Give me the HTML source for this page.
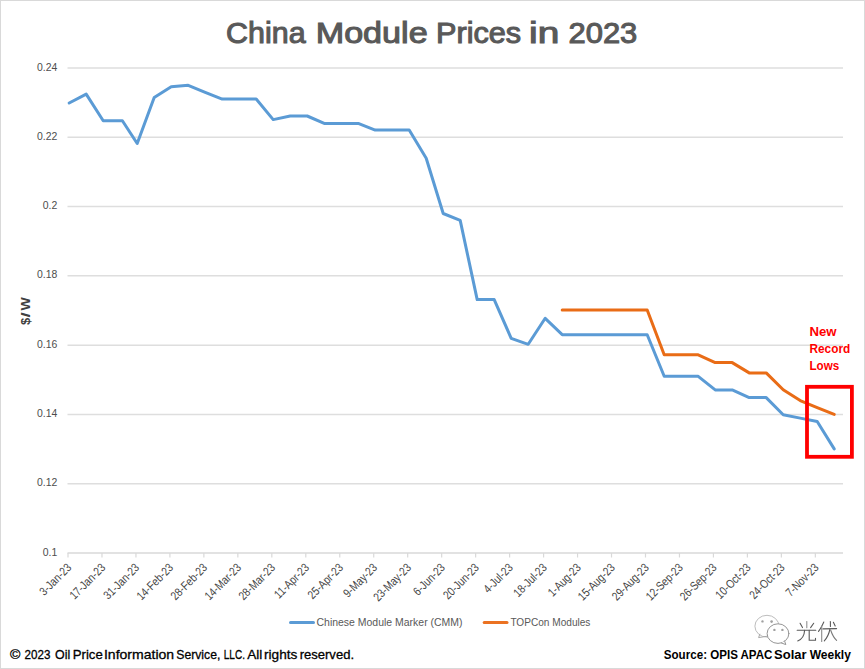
<!DOCTYPE html>
<html><head><meta charset="utf-8"><style>
html,body{margin:0;padding:0;background:#fff;}
svg{display:block;}
text{font-family:"Liberation Sans",sans-serif;}
</style></head><body>
<svg width="865" height="669" viewBox="0 0 865 669">
<rect x="0.5" y="0.5" width="864" height="668" fill="#fff" stroke="#d9d9d9" stroke-width="1"/>
<text x="226.10" y="42.6" font-size="30" fill="#595959" stroke="#595959" stroke-width="1.1" textLength="79.5" lengthAdjust="spacingAndGlyphs">China</text>
<text x="315.70" y="42.6" font-size="30" fill="#595959" stroke="#595959" stroke-width="1.1" textLength="112" lengthAdjust="spacingAndGlyphs">Module</text>
<text x="436.10" y="42.6" font-size="30" fill="#595959" stroke="#595959" stroke-width="1.1" textLength="85" lengthAdjust="spacingAndGlyphs">Prices</text>
<text x="529.10" y="42.6" font-size="30" fill="#595959" stroke="#595959" stroke-width="1.1" textLength="30.2" lengthAdjust="spacingAndGlyphs">in</text>
<text x="568.50" y="42.6" font-size="30" fill="#595959" stroke="#595959" stroke-width="1.1" textLength="68.8" lengthAdjust="spacingAndGlyphs">2023</text>
<line x1="67.5" y1="68.00" x2="843" y2="68.00" stroke="#dedede" stroke-width="1.5"/>
<line x1="67.5" y1="137.29" x2="843" y2="137.29" stroke="#dedede" stroke-width="1.5"/>
<line x1="67.5" y1="206.58" x2="843" y2="206.58" stroke="#dedede" stroke-width="1.5"/>
<line x1="67.5" y1="275.87" x2="843" y2="275.87" stroke="#dedede" stroke-width="1.5"/>
<line x1="67.5" y1="345.16" x2="843" y2="345.16" stroke="#dedede" stroke-width="1.5"/>
<line x1="67.5" y1="414.45" x2="843" y2="414.45" stroke="#dedede" stroke-width="1.5"/>
<line x1="67.5" y1="483.74" x2="843" y2="483.74" stroke="#dedede" stroke-width="1.5"/>
<line x1="67.5" y1="553.03" x2="843" y2="553.03" stroke="#d9d9d9" stroke-width="1.6"/>
<line x1="68.00" y1="553.03" x2="68.00" y2="557.5" stroke="#d9d9d9" stroke-width="1.2"/>
<line x1="101.97" y1="553.03" x2="101.97" y2="557.5" stroke="#d9d9d9" stroke-width="1.2"/>
<line x1="135.94" y1="553.03" x2="135.94" y2="557.5" stroke="#d9d9d9" stroke-width="1.2"/>
<line x1="169.91" y1="553.03" x2="169.91" y2="557.5" stroke="#d9d9d9" stroke-width="1.2"/>
<line x1="203.88" y1="553.03" x2="203.88" y2="557.5" stroke="#d9d9d9" stroke-width="1.2"/>
<line x1="237.85" y1="553.03" x2="237.85" y2="557.5" stroke="#d9d9d9" stroke-width="1.2"/>
<line x1="271.82" y1="553.03" x2="271.82" y2="557.5" stroke="#d9d9d9" stroke-width="1.2"/>
<line x1="305.79" y1="553.03" x2="305.79" y2="557.5" stroke="#d9d9d9" stroke-width="1.2"/>
<line x1="339.76" y1="553.03" x2="339.76" y2="557.5" stroke="#d9d9d9" stroke-width="1.2"/>
<line x1="373.73" y1="553.03" x2="373.73" y2="557.5" stroke="#d9d9d9" stroke-width="1.2"/>
<line x1="407.70" y1="553.03" x2="407.70" y2="557.5" stroke="#d9d9d9" stroke-width="1.2"/>
<line x1="441.67" y1="553.03" x2="441.67" y2="557.5" stroke="#d9d9d9" stroke-width="1.2"/>
<line x1="475.64" y1="553.03" x2="475.64" y2="557.5" stroke="#d9d9d9" stroke-width="1.2"/>
<line x1="509.61" y1="553.03" x2="509.61" y2="557.5" stroke="#d9d9d9" stroke-width="1.2"/>
<line x1="543.58" y1="553.03" x2="543.58" y2="557.5" stroke="#d9d9d9" stroke-width="1.2"/>
<line x1="577.55" y1="553.03" x2="577.55" y2="557.5" stroke="#d9d9d9" stroke-width="1.2"/>
<line x1="611.52" y1="553.03" x2="611.52" y2="557.5" stroke="#d9d9d9" stroke-width="1.2"/>
<line x1="645.49" y1="553.03" x2="645.49" y2="557.5" stroke="#d9d9d9" stroke-width="1.2"/>
<line x1="679.46" y1="553.03" x2="679.46" y2="557.5" stroke="#d9d9d9" stroke-width="1.2"/>
<line x1="713.43" y1="553.03" x2="713.43" y2="557.5" stroke="#d9d9d9" stroke-width="1.2"/>
<line x1="747.40" y1="553.03" x2="747.40" y2="557.5" stroke="#d9d9d9" stroke-width="1.2"/>
<line x1="781.37" y1="553.03" x2="781.37" y2="557.5" stroke="#d9d9d9" stroke-width="1.2"/>
<line x1="815.34" y1="553.03" x2="815.34" y2="557.5" stroke="#d9d9d9" stroke-width="1.2"/>
<text transform="translate(57.3,70.50) scale(0.95,1)" font-size="11" fill="#4d4d4d" text-anchor="end">0.24</text>
<text transform="translate(57.3,139.79) scale(0.95,1)" font-size="11" fill="#4d4d4d" text-anchor="end">0.22</text>
<text transform="translate(57.3,209.08) scale(0.95,1)" font-size="11" fill="#4d4d4d" text-anchor="end">0.2</text>
<text transform="translate(57.3,278.37) scale(0.95,1)" font-size="11" fill="#4d4d4d" text-anchor="end">0.18</text>
<text transform="translate(57.3,347.66) scale(0.95,1)" font-size="11" fill="#4d4d4d" text-anchor="end">0.16</text>
<text transform="translate(57.3,416.95) scale(0.95,1)" font-size="11" fill="#4d4d4d" text-anchor="end">0.14</text>
<text transform="translate(57.3,486.24) scale(0.95,1)" font-size="11" fill="#4d4d4d" text-anchor="end">0.12</text>
<text transform="translate(57.3,555.53) scale(0.95,1)" font-size="11" fill="#4d4d4d" text-anchor="end">0.1</text>
<g transform="translate(30.3,0) rotate(-90)" font-size="13" font-weight="bold" fill="#404040"><text x="-325" y="0">$</text><text x="-317.6" y="0" transform="translate(-317.6,0) scale(1.45,1) translate(317.6,0)">/</text><text x="-310.4" y="0" textLength="13.2" lengthAdjust="spacingAndGlyphs">W</text></g>
<text transform="translate(72.10,568.4) rotate(-45) scale(0.83,1)" font-size="12" fill="#454545" text-anchor="end">3-Jan-23</text>
<text transform="translate(106.07,568.4) rotate(-45) scale(0.83,1)" font-size="12" fill="#454545" text-anchor="end">17-Jan-23</text>
<text transform="translate(140.04,568.4) rotate(-45) scale(0.83,1)" font-size="12" fill="#454545" text-anchor="end">31-Jan-23</text>
<text transform="translate(174.01,568.4) rotate(-45) scale(0.83,1)" font-size="12" fill="#454545" text-anchor="end">14-Feb-23</text>
<text transform="translate(207.98,568.4) rotate(-45) scale(0.83,1)" font-size="12" fill="#454545" text-anchor="end">28-Feb-23</text>
<text transform="translate(241.95,568.4) rotate(-45) scale(0.83,1)" font-size="12" fill="#454545" text-anchor="end">14-Mar-23</text>
<text transform="translate(275.92,568.4) rotate(-45) scale(0.83,1)" font-size="12" fill="#454545" text-anchor="end">28-Mar-23</text>
<text transform="translate(309.89,568.4) rotate(-45) scale(0.83,1)" font-size="12" fill="#454545" text-anchor="end">11-Apr-23</text>
<text transform="translate(343.86,568.4) rotate(-45) scale(0.83,1)" font-size="12" fill="#454545" text-anchor="end">25-Apr-23</text>
<text transform="translate(377.83,568.4) rotate(-45) scale(0.83,1)" font-size="12" fill="#454545" text-anchor="end">9-May-23</text>
<text transform="translate(411.80,568.4) rotate(-45) scale(0.83,1)" font-size="12" fill="#454545" text-anchor="end">23-May-23</text>
<text transform="translate(445.77,568.4) rotate(-45) scale(0.83,1)" font-size="12" fill="#454545" text-anchor="end">6-Jun-23</text>
<text transform="translate(479.74,568.4) rotate(-45) scale(0.83,1)" font-size="12" fill="#454545" text-anchor="end">20-Jun-23</text>
<text transform="translate(513.71,568.4) rotate(-45) scale(0.83,1)" font-size="12" fill="#454545" text-anchor="end">4-Jul-23</text>
<text transform="translate(547.68,568.4) rotate(-45) scale(0.83,1)" font-size="12" fill="#454545" text-anchor="end">18-Jul-23</text>
<text transform="translate(581.65,568.4) rotate(-45) scale(0.83,1)" font-size="12" fill="#454545" text-anchor="end">1-Aug-23</text>
<text transform="translate(615.62,568.4) rotate(-45) scale(0.83,1)" font-size="12" fill="#454545" text-anchor="end">15-Aug-23</text>
<text transform="translate(649.59,568.4) rotate(-45) scale(0.83,1)" font-size="12" fill="#454545" text-anchor="end">29-Aug-23</text>
<text transform="translate(683.56,568.4) rotate(-45) scale(0.83,1)" font-size="12" fill="#454545" text-anchor="end">12-Sep-23</text>
<text transform="translate(717.53,568.4) rotate(-45) scale(0.83,1)" font-size="12" fill="#454545" text-anchor="end">26-Sep-23</text>
<text transform="translate(751.50,568.4) rotate(-45) scale(0.83,1)" font-size="12" fill="#454545" text-anchor="end">10-Oct-23</text>
<text transform="translate(785.47,568.4) rotate(-45) scale(0.83,1)" font-size="12" fill="#454545" text-anchor="end">24-Oct-23</text>
<text transform="translate(819.44,568.4) rotate(-45) scale(0.83,1)" font-size="12" fill="#454545" text-anchor="end">7-Nov-23</text>
<polyline points="69.20,103.00 86.20,94.10 103.20,120.75 122.40,120.75 137.20,143.50 154.20,97.40 171.20,86.70 188.20,85.30 205.20,92.40 222.20,99.10 239.20,99.00 256.20,99.00 273.20,119.60 290.20,116.00 307.20,116.00 324.20,123.40 341.20,123.40 358.20,123.40 375.20,130.10 392.20,130.10 409.20,130.10 426.20,158.30 443.20,213.50 460.20,220.40 477.20,299.60 494.20,299.60 511.20,338.30 528.20,344.30 545.20,318.30 562.20,334.70 579.20,334.70 596.20,334.70 613.20,334.70 630.20,334.70 647.20,334.70 664.20,376.30 681.20,376.30 698.20,376.30 715.20,389.90 732.20,389.90 749.20,397.60 766.20,397.60 783.20,414.80 800.20,418.10 817.20,421.50 834.20,448.90" fill="none" stroke="#5b9bd5" stroke-width="3" stroke-linejoin="round" stroke-linecap="round"/>
<polyline points="562.20,310.00 579.20,310.00 596.20,310.00 613.20,310.00 630.20,310.00 647.20,310.00 664.20,354.80 681.20,354.80 698.20,354.80 715.20,362.60 732.20,362.60 749.20,372.90 766.20,372.90 783.20,389.80 800.20,400.60 817.20,407.70 834.20,414.40" fill="none" stroke="#e96c16" stroke-width="3" stroke-linejoin="round" stroke-linecap="round"/>
<rect x="807" y="386.8" width="44.9" height="70" fill="none" stroke="#ff0000" stroke-width="3.8"/>
<text x="809.5" y="335.6" font-size="12" font-weight="bold" fill="#ff0000" textLength="27.1" lengthAdjust="spacingAndGlyphs">New</text>
<text x="809.5" y="352.7" font-size="12" font-weight="bold" fill="#ff0000" textLength="40.7" lengthAdjust="spacingAndGlyphs">Record</text>
<text x="809.5" y="369.7" font-size="12" font-weight="bold" fill="#ff0000" textLength="29.7" lengthAdjust="spacingAndGlyphs">Lows</text>
<line x1="290.5" y1="622.5" x2="313.5" y2="622.5" stroke="#5b9bd5" stroke-width="3" stroke-linecap="round"/>
<text x="316.5" y="625.8" font-size="11" fill="#595959" textLength="146" lengthAdjust="spacingAndGlyphs">Chinese Module Marker (CMM)</text>
<line x1="484.2" y1="622.6" x2="507" y2="622.6" stroke="#eb7222" stroke-width="3" stroke-linecap="round"/>
<text x="510.4" y="625.8" font-size="11" fill="#595959" textLength="80" lengthAdjust="spacingAndGlyphs">TOPCon Modules</text>
<text x="9.90" y="658.7" font-size="13.5" fill="#000" stroke="#000" stroke-width="0.3" textLength="10.40" lengthAdjust="spacingAndGlyphs">©</text>
<text x="24.50" y="658.7" font-size="13.5" fill="#000" stroke="#000" stroke-width="0.3" textLength="25.85" lengthAdjust="spacingAndGlyphs">2023</text>
<text x="55.00" y="658.7" font-size="13.5" fill="#000" stroke="#000" stroke-width="0.3" textLength="15.15" lengthAdjust="spacingAndGlyphs">Oil</text>
<text x="72.75" y="658.7" font-size="13.5" fill="#000" stroke="#000" stroke-width="0.3" textLength="30.05" lengthAdjust="spacingAndGlyphs">Price</text>
<text x="103.95" y="658.7" font-size="13.5" fill="#000" stroke="#000" stroke-width="0.3" textLength="70.20" lengthAdjust="spacingAndGlyphs">Information</text>
<text x="176.25" y="658.7" font-size="13.5" fill="#000" stroke="#000" stroke-width="0.3" textLength="44.10" lengthAdjust="spacingAndGlyphs">Service,</text>
<text x="223.80" y="658.7" font-size="13.5" fill="#000" stroke="#000" stroke-width="0.3" textLength="21.15" lengthAdjust="spacingAndGlyphs">LLC.</text>
<text x="247.25" y="658.7" font-size="13.5" fill="#000" stroke="#000" stroke-width="0.3" textLength="15.15" lengthAdjust="spacingAndGlyphs">All</text>
<text x="264.00" y="658.7" font-size="13.5" fill="#000" stroke="#000" stroke-width="0.3" textLength="33.35" lengthAdjust="spacingAndGlyphs">rights</text>
<text x="299.65" y="658.7" font-size="13.5" fill="#000" stroke="#000" stroke-width="0.3" textLength="54.40" lengthAdjust="spacingAndGlyphs">reserved.</text>
<text x="663.80" y="658.7" font-size="13.5" font-weight="bold" fill="#000" textLength="43.20" lengthAdjust="spacingAndGlyphs">Source:</text>
<text x="710.30" y="658.7" font-size="13.5" font-weight="bold" fill="#000" textLength="27.65" lengthAdjust="spacingAndGlyphs">OPIS</text>
<text x="740.45" y="658.7" font-size="13.5" font-weight="bold" fill="#000" textLength="31.90" lengthAdjust="spacingAndGlyphs">APAC</text>
<text x="774.05" y="658.7" font-size="13.5" font-weight="bold" fill="#000" textLength="32.50" lengthAdjust="spacingAndGlyphs">Solar</text>
<text x="809.70" y="658.7" font-size="13.5" font-weight="bold" fill="#000" textLength="41.20" lengthAdjust="spacingAndGlyphs">Weekly</text>
<g fill="none" stroke-width="1" stroke-linecap="round" stroke-linejoin="round">
<ellipse cx="767" cy="626.2" rx="12.1" ry="10.9" stroke="#bdbdbd"/>
<path d="M759.8,634.2 L758.6,637.6 L767.3,636.2" stroke="#a8a8a8"/>
<ellipse cx="778" cy="633.6" rx="10.9" ry="9.8" stroke="#959595" fill="#fff"/><path d="M781.5,643 L785.8,644.6 L784.6,641" stroke="#959595" fill="#fff"/>
</g>
<g fill="#a0a0a0"><circle cx="762.5" cy="621.4" r="1.2"/><circle cx="771.6" cy="621.6" r="1.3"/><circle cx="774.4" cy="629.9" r="1.2"/><circle cx="782.4" cy="629.9" r="1.2"/></g>
<g fill="none" stroke="#5a5a5a" stroke-width="1.1" stroke-linecap="round">
<path d="M800.1,623.3 L802.5,627.6"/>
<path d="M806.8,621.5 L806.8,627.8" stroke="#909090"/>
<path d="M813.7,623.3 L810.6,627.6"/>
<path d="M797.2,630.2 L815.8,630.2"/>
<path d="M804.6,630.2 C804.4,635 802.5,639 797.7,640.9"/>
<path d="M809.2,630.2 L809.2,640.3 L815.5,640.3 L815.5,638.4"/>
<path d="M823.8,622 C822,626 820.5,629 818.5,631.3"/>
<path d="M821.7,626 L821.7,641.4" stroke="#8a8a8a"/>
<path d="M822.9,628.9 L836.6,628.6"/>
<path d="M830.4,621.5 L830.4,626.5"/>
<path d="M833.4,622.3 L835.2,626"/>
<path d="M829.9,629.2 C829,634 827,638 824.3,640.9"/>
<path d="M830.7,630.2 C832,634 834,638 836.6,640.3" stroke="#7a7a7a"/>
</g>
</svg>
</body></html>
